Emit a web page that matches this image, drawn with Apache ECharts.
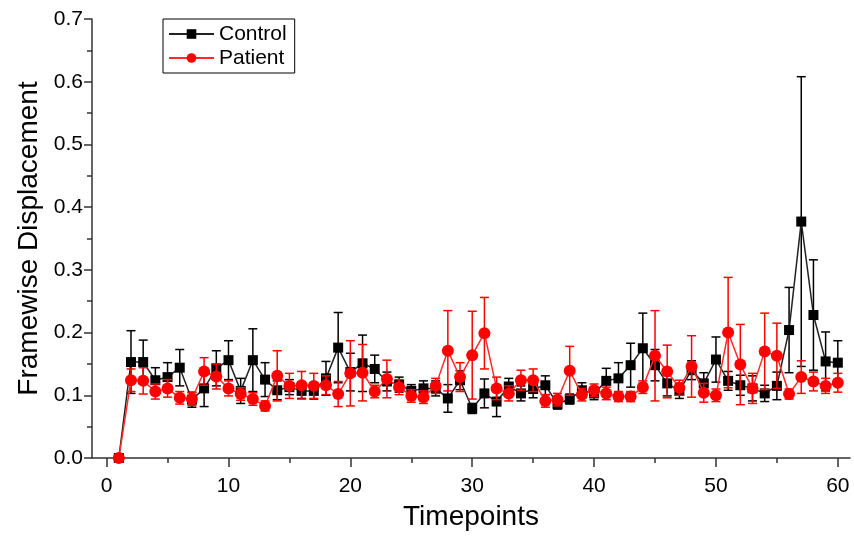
<!DOCTYPE html>
<html><head><meta charset="utf-8">
<script src="https://cdn.jsdelivr.net/npm/echarts@6/dist/echarts.min.js"></script>
<style>html,body{margin:0;padding:0;background:#fff}#c{width:854px;height:541px}</style>
</head><body><div id="c"></div>
<script>
const timepoints = [1,2,3,4,5,6,7,8,9,10,11,12,13,14,15,16,17,18,19,20,21,22,23,24,25,26,27,28,29,30,31,32,33,34,35,36,37,38,39,40,41,42,43,44,45,46,47,48,49,50,51,52,53,54,55,56,57,58,59,60];
const controlMean = [0,0.153,0.153,0.124,0.129,0.144,0.093,0.111,0.143,0.156,0.107,0.156,0.125,0.108,0.113,0.107,0.107,0.127,0.176,0.137,0.151,0.142,0.122,0.117,0.107,0.111,0.111,0.095,0.124,0.079,0.103,0.090,0.114,0.103,0.110,0.116,0.086,0.094,0.108,0.103,0.123,0.127,0.148,0.175,0.148,0.119,0.107,0.140,0.119,0.157,0.123,0.116,0.111,0.103,0.115,0.204,0.377,0.228,0.154,0.152];
const controlErr = [0,0.050,0.035,0.020,0.023,0.029,0.012,0.029,0.028,0.031,0.020,0.050,0.027,0.015,0.012,0.012,0.013,0.027,0.056,0.030,0.045,0.022,0.015,0.012,0.010,0.012,0.012,0.022,0.015,0.008,0.023,0.024,0.013,0.012,0.014,0.015,0.008,0.008,0.012,0.010,0.020,0.025,0.035,0.056,0.025,0.020,0.012,0.015,0.017,0.036,0.015,0.016,0.020,0.013,0.022,0.068,0.231,0.088,0.047,0.035];
const patientMean = [0,0.124,0.123,0.106,0.111,0.096,0.094,0.138,0.130,0.111,0.102,0.094,0.083,0.131,0.115,0.116,0.115,0.116,0.102,0.135,0.136,0.106,0.126,0.113,0.099,0.097,0.115,0.171,0.129,0.164,0.199,0.111,0.103,0.124,0.124,0.091,0.093,0.139,0.101,0.108,0.103,0.098,0.098,0.113,0.163,0.138,0.112,0.146,0.104,0.100,0.200,0.149,0.111,0.170,0.163,0.102,0.129,0.122,0.115,0.120];
const patientErr = [0,0.018,0.021,0.012,0.014,0.010,0.010,0.022,0.020,0.012,0.010,0.010,0.008,0.040,0.020,0.022,0.020,0.015,0.020,0.052,0.045,0.010,0.030,0.012,0.010,0.010,0.012,0.064,0.023,0.070,0.057,0.018,0.012,0.016,0.018,0.010,0.010,0.039,0.010,0.010,0.010,0.008,0.008,0.010,0.072,0.042,0.012,0.049,0.015,0.010,0.088,0.064,0.024,0.061,0.052,0.008,0.026,0.015,0.012,0.015];
const xTickLabels = [0,10,20,30,40,50,60];
const xMinorTicks = [5,15,25,35,45,55];

const FONT = 'Liberation Sans, Arial, sans-serif';
const AXIS_COLOR = '#333';

function pairs(means){ return timepoints.map((t,i)=>[t, means[i]]); }
function errData(means, errs){ return timepoints.map((t,i)=>[t, means[i]-errs[i], means[i]+errs[i]]); }
function errRender(color){
  return function(params, api){
    const x = api.value(0), lo = api.value(1), hi = api.value(2);
    if (hi - lo <= 0) return null;
    const a = api.coord([x, lo]), b = api.coord([x, hi]);
    const hw = 4.5, st = {stroke: color, lineWidth: 1.5};
    return {type:'group', children:[
      {type:'line', shape:{x1:a[0],y1:a[1],x2:b[0],y2:b[1]}, style:st},
      {type:'line', shape:{x1:a[0]-hw,y1:a[1],x2:a[0]+hw,y2:a[1]}, style:st},
      {type:'line', shape:{x1:b[0]-hw,y1:b[1],x2:b[0]+hw,y2:b[1]}, style:st}
    ]};
  };
}

const chart = echarts.init(document.getElementById('c'), null, {renderer:'canvas'});
const gridBox = {left:92, right:4, top:19, bottom:83};
chart.setOption({
  backgroundColor:'#fff',
  animation:false,
  grid:[Object.assign({}, gridBox), Object.assign({}, gridBox)],
  legend:{
    data:['Control','Patient'],
    orient:'vertical', left:163, top:19,
    borderColor:'#000', borderWidth:1, borderRadius:0,
    padding:[4,8,4,5],
    itemWidth:45, itemHeight:12, itemGap:2,
    textStyle:{fontFamily:FONT, fontSize:21, color:'#000', lineHeight:22}
  },
  xAxis:[{
    type:'value', gridIndex:0, min:-1.2, max:61,
    name:'Timepoints', nameLocation:'middle', nameGap:45,
    nameTextStyle:{fontFamily:FONT, fontSize:28, color:'#000'},
    axisLine:{show:true, onZero:false, lineStyle:{color:AXIS_COLOR, width:1.5}},
    axisTick:{show:true, length:9, customValues:xTickLabels, lineStyle:{color:AXIS_COLOR, width:1.5}},
    axisLabel:{show:true, customValues:xTickLabels, margin:18, fontFamily:FONT, fontSize:21, color:'#000'},
    splitLine:{show:false}
  },{
    type:'value', gridIndex:1, min:-1.2, max:61,
    axisLine:{show:false},
    axisTick:{show:true, length:5, customValues:xMinorTicks, lineStyle:{color:AXIS_COLOR, width:1.5}},
    axisLabel:{show:false},
    splitLine:{show:false}
  }],
  yAxis:[{
    type:'value', gridIndex:0, min:0, max:0.7, interval:0.1,
    name:'Framewise Displacement', nameLocation:'middle', nameGap:48,
    nameTextStyle:{fontFamily:FONT, fontSize:28, color:'#000'},
    axisLine:{show:true, onZero:false, lineStyle:{color:AXIS_COLOR, width:1.5}},
    axisTick:{show:true, length:8, lineStyle:{color:AXIS_COLOR, width:1.5}},
    minorTick:{show:true, splitNumber:2, length:5, lineStyle:{color:AXIS_COLOR, width:1.5}},
    axisLabel:{margin:9, fontFamily:FONT, fontSize:21, color:'#000', formatter:v=>v.toFixed(1)},
    splitLine:{show:false}
  },{
    type:'value', gridIndex:1, min:0, max:0.7, show:false
  }],
  series:[
    {type:'custom', name:'Control err', xAxisIndex:0, yAxisIndex:0, data:errData(controlMean, controlErr),
     encode:{x:0, y:[1,2]}, renderItem:errRender('#000'), z:2, clip:false},
    {type:'line', name:'Control', data:pairs(controlMean), symbol:'rect', symbolSize:10,
     itemStyle:{color:'#000'}, lineStyle:{color:'#222', width:1.5}, z:3, clip:false},
    {type:'custom', name:'Patient err', xAxisIndex:0, yAxisIndex:0, data:errData(patientMean, patientErr),
     encode:{x:0, y:[1,2]}, renderItem:errRender('#ff0000'), z:4, clip:false},
    {type:'line', name:'Patient', data:pairs(patientMean), symbol:'circle', symbolSize:12,
     itemStyle:{color:'#ff0000'}, lineStyle:{color:'#ff2a2a', width:1.5}, z:5, clip:false}
  ]
});
</script></body></html>
